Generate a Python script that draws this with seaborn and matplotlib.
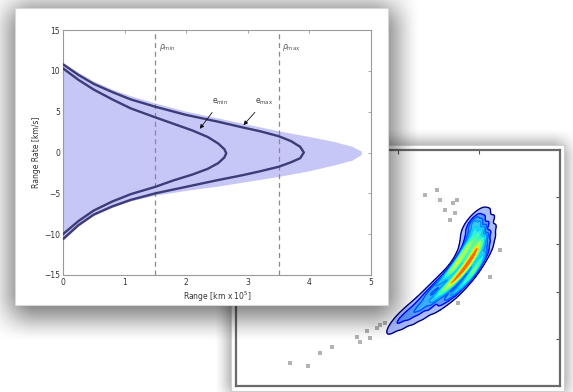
import numpy as np
import matplotlib
matplotlib.use("Agg")
import matplotlib.pyplot as plt
import seaborn as sns
from matplotlib.patches import Rectangle
from matplotlib.colors import LinearSegmentedColormap

# ---------------- data: left panel (range / range-rate) ----------------
env_x = [0, 0.25, 0.5, 0.8, 1.1, 1.5, 2.0, 2.5, 3.0, 3.5, 4.0, 4.4, 4.7, 4.85,
         4.85, 4.7, 4.4, 4.0, 3.5, 3.0, 2.5, 2.0, 1.5, 1.1, 0.8, 0.5, 0.25, 0]
env_y = [11.0, 9.8, 8.7, 7.7, 6.9, 6.0, 5.0, 4.2, 3.4, 2.6, 1.9, 1.3, 0.7, 0.1,
         -0.3, -1.0, -1.6, -2.3, -3.0, -3.6, -4.2, -4.7, -5.3, -6.0, -6.8, -7.8, -9.1, -10.9]

emin_x = [0, 0.25, 0.5, 0.8, 1.1, 1.5, 1.8, 2.1, 2.35, 2.52, 2.62, 2.65,
          2.62, 2.52, 2.35, 2.1, 1.8, 1.5, 1.1, 0.8, 0.5, 0.25, 0]
emin_y = [10.3, 8.9, 7.7, 6.5, 5.4, 4.3, 3.5, 2.7, 1.9, 1.1, 0.4, -0.1,
          -0.6, -1.3, -2.0, -2.7, -3.4, -4.2, -5.1, -6.0, -7.1, -8.4, -10.0]

emax_x = [0, 0.25, 0.5, 0.8, 1.1, 1.5, 2.0, 2.5, 2.9, 3.2, 3.5, 3.7, 3.85, 3.91,
          3.85, 3.7, 3.5, 3.2, 2.9, 2.5, 2.0, 1.5, 1.1, 0.8, 0.5, 0.25, 0]
emax_y = [10.8, 9.5, 8.4, 7.4, 6.5, 5.6, 4.6, 3.8, 3.1, 2.6, 2.0, 1.4, 0.7, 0.0,
          -0.7, -1.2, -1.75, -2.3, -2.8, -3.4, -4.2, -5.0, -5.8, -6.6, -7.6, -8.9, -10.6]

rho_limits = [1.5, 3.5]
rho_labels = [r"$\rho_{\rm min}$", r"$\rho_{\rm max}$"]
x_ticks_left = [0, 1, 2, 3, 4, 5]
y_ticks_left = [-15, -10, -5, 0, 5, 10, 15]

# ---------------- data: right panel (banana density) ----------------
# centre line of the banana
mid_x = [1.95, 2.07, 2.20, 2.33, 2.47, 2.59, 2.70, 2.80, 2.88, 2.94, 2.98, 2.99, 2.99, 2.96]
mid_y = [1.29, 1.43, 1.57, 1.74, 1.91, 2.08, 2.25, 2.44, 2.63, 2.82, 3.01, 3.20, 3.39, 3.54]
mid_w = [1.5, 2.5, 3.5, 4.8, 6.2, 7.8, 9.5, 11, 11, 9.5, 7.8, 6.2, 4.8, 3.5]
# inner (upper-left) side
inn_x = [1.93, 2.04, 2.16, 2.29, 2.41, 2.53, 2.64, 2.72, 2.78, 2.84, 2.87, 2.88, 2.89, 2.89]
inn_y = [1.33, 1.51, 1.67, 1.86, 2.05, 2.24, 2.41, 2.55, 2.73, 2.90, 3.05, 3.21, 3.37, 3.50]
# outer (lower-right) side
out_x = [1.97, 2.10, 2.24, 2.38, 2.53, 2.65, 2.77, 2.89, 2.97, 3.04, 3.08, 3.10, 3.09, 3.04]
out_y = [1.24, 1.34, 1.46, 1.61, 1.77, 1.92, 2.09, 2.32, 2.53, 2.74, 2.97, 3.19, 3.41, 3.57]
side_w = [0.9, 1.5, 2.1, 2.9, 3.7, 4.7, 5.7, 6.6, 6.6, 5.7, 4.7, 3.7, 2.9, 2.1]

pts_x = [0.67, 0.89, 1.04, 1.19, 1.49, 1.53, 1.62, 1.65, 1.74, 1.78, 1.84,
         2.33, 2.48, 2.52, 2.58, 2.64, 2.68, 2.73, 2.70, 3.26, 3.14, 2.74]
pts_y = [0.49, 0.42, 0.70, 0.83, 1.04, 0.93, 1.17, 1.02, 1.23, 1.29, 1.34,
         4.05, 4.15, 3.94, 3.73, 3.52, 3.88, 3.94, 3.67, 2.88, 2.31, 1.76]

# ---------------- figure ----------------
sns.set_theme(style="white")
plt.rcParams["font.family"] = ["DejaVu Sans"]
JET = matplotlib.colormaps["jet"]
FILL_CMAP = LinearSegmentedColormap.from_list(
    "softjet", ["#e8ecff", "#5a80ff", "#1fa8ff", "#20e8e0", "#60ff60",
                "#ffff20", "#ff9a00", "#ff2000", "#e00000"])

W, H = 573, 392
fig = plt.figure(figsize=(W / 100, H / 100), dpi=100)
fig.patch.set_facecolor("white")


def fr(x0, y0, x1, y1):
    return [x0 / W, 1 - y1 / H, (x1 - x0) / W, (y1 - y0) / H]


def shadow_img(x0, y0, x1, y1, blur, alpha):
    xs = np.arange(W) + 0.5
    ys = np.arange(H) + 0.5

    def ramp(v, a, b):
        t1 = np.clip((v - (a - blur)) / (2 * blur), 0, 1)
        t2 = np.clip(((b + blur) - v) / (2 * blur), 0, 1)
        return (t1 * t1 * (3 - 2 * t1)) * (t2 * t2 * (3 - 2 * t2))

    img = np.zeros((H, W, 4))
    img[..., 3] = np.outer(ramp(ys, y0, y1), ramp(xs, x0, x1)) * alpha
    return img


def canvas(z):
    a = fig.add_axes([0, 0, 1, 1], zorder=z)
    a.set_xlim(0, W)
    a.set_ylim(H, 0)
    a.axis("off")
    a.patch.set_alpha(0)
    return a


# background: shadow + card of the right panel
ax0 = canvas(0)
ax0.imshow(shadow_img(229, 143, 566, 395, 16, 0.45), extent=(0, W, H, 0),
           aspect="auto", interpolation="bilinear")
ax0.add_patch(Rectangle((231, 145), 333, 246, fc="white", ec="#cfcfcf", lw=0.8))

# right chart
axr = fig.add_axes(fr(236, 150, 560, 386), zorder=1)
axr.set_facecolor("white")
sns.scatterplot(x=pts_x, y=pts_y, ax=axr, marker="s", s=9, color="#b3b3b3",
                edgecolor="none", zorder=1)
bx = mid_x + inn_x + out_x
by = mid_y + inn_y + out_y
bw = mid_w + side_w + side_w
kde_kw = dict(weights=bw, levels=9, thresh=0.04, bw_adjust=0.5)
sns.kdeplot(x=bx, y=by, ax=axr, fill=True, alpha=0.9, cmap=FILL_CMAP,
            zorder=2, **kde_kw)
sns.kdeplot(x=bx, y=by, ax=axr, fill=False, linewidths=1.0, cmap=JET,
            zorder=3, **kde_kw)
axr.set_xlim(0, 4)
axr.set_ylim(0, 5)
axr.set_xticks([1, 2, 3])
axr.set_yticks([1, 2, 3, 4])
axr.tick_params(direction="in", length=3, width=0.8, top=True, right=True,
                labelbottom=False, labelleft=False, colors="#555555")
for s in axr.spines.values():
    s.set_color("#6a6a6a")
    s.set_linewidth(1.6)

# overlay: shadow + card of the left panel
ax2 = canvas(2)
ax2.imshow(shadow_img(10, 6, 396, 318, 26, 0.55), extent=(0, W, H, 0),
           aspect="auto", interpolation="bilinear")
ax2.add_patch(Rectangle((15, 8), 373, 297, fc="white", ec="#d8d8d8", lw=0.8))

# left chart
axl = fig.add_axes(fr(63, 30, 371, 275), zorder=3)
axl.set_facecolor("white")
axl.fill(env_x, env_y, color="#c6c6f7", lw=0, zorder=1)
for xv in rho_limits:
    axl.axvline(xv, color="#8a8a8a", lw=0.9, ls=(0, (4, 3)), zorder=2)
for xv, lab in zip(rho_limits, rho_labels):
    axl.text(xv + 0.06, 12.9, lab, fontsize=5.5, color="#555555", va="center")
sns.lineplot(x=emin_x, y=emin_y, sort=False, estimator=None, ax=axl,
             color="#3c3c78", lw=1.7, zorder=3)
sns.lineplot(x=emax_x, y=emax_y, sort=False, estimator=None, ax=axl,
             color="#3c3c78", lw=1.7, zorder=3)
axl.annotate(r"e$_{\rm min}$", xy=(2.22, 2.9), xytext=(2.42, 6.0), fontsize=5.5,
             color="#444444",
             arrowprops=dict(arrowstyle="-|>", color="#111111", lw=0.6,
                             mutation_scale=6, shrinkA=2, shrinkB=0), zorder=4)
axl.annotate(r"e$_{\rm max}$", xy=(2.93, 3.35), xytext=(3.12, 6.0), fontsize=5.5,
             color="#444444",
             arrowprops=dict(arrowstyle="-|>", color="#111111", lw=0.6,
                             mutation_scale=6, shrinkA=2, shrinkB=0), zorder=4)
axl.set_xlim(0, 5)
axl.set_ylim(-15, 15)
axl.set_xticks(x_ticks_left)
axl.set_yticks(y_ticks_left)
axl.tick_params(direction="in", length=2.5, width=0.6, top=True, right=True,
                labelsize=5.5, colors="#999999", labelcolor="#333333", pad=2)
for s in axl.spines.values():
    s.set_color("#9a9a9a")
    s.set_linewidth(0.8)
axl.set_xlabel(r"Range [km x 10$^5$]", fontsize=5.5, color="#333333", labelpad=2)
axl.set_ylabel("Range Rate [km/s]", fontsize=5.5, color="#333333", labelpad=2)

fig.savefig("out.png", dpi=100)
